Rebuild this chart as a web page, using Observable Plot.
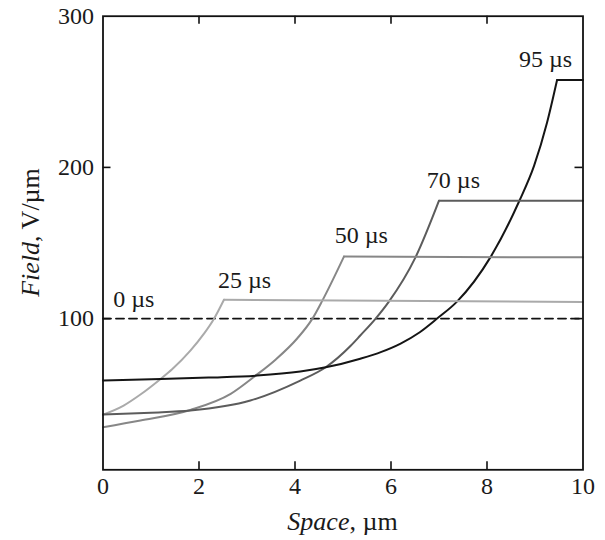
<!DOCTYPE html>
<html><head><meta charset="utf-8">
<script src="https://cdn.jsdelivr.net/npm/d3@7"></script>
<script src="https://cdn.jsdelivr.net/npm/@observablehq/plot@0.6"></script>
<style>body{margin:0;background:#fff} svg{display:block}</style>
</head><body><div id="chart"></div>
<script>
// ---- data ----
const seriesNames = ["0 µs", "25 µs", "50 µs", "70 µs", "95 µs"];
const seriesColors = ["#111111", "#aaaaaa", "#878787", "#5c5c5c", "#151515"];

const space0 = [0, 10];
const field0 = [100, 100];

const space25 = [0, 0.43, 0.78, 1.2, 1.44, 1.82, 2.1, 2.31, 2.52];
const field25 = [36.5, 42.5, 49.8, 60.1, 66.5, 78.8, 89.9, 99.8, 112.5];
const plateau25 = 111;

const space50 = [0, 0.78, 1.82, 2.66, 3.18, 3.6, 4.05, 4.36, 4.57, 5.02];
const field50 = [28.2, 32.6, 39.6, 50.2, 62.3, 73, 87, 99.8, 111.9, 141];
const plateau50 = 140.5;

const space70 = [0, 1.0, 1.82, 3.07, 4.11, 4.64, 5.16, 5.36, 5.68, 5.96, 6.51, 7.0];
const field70 = [36.5, 37.8, 39.2, 45.8, 59, 67.8, 82, 88.8, 100, 111.4, 140.5, 178];
const plateau70 = 178;

const space95 = [0, 1.2, 2.2, 3.21, 4.11, 4.64, 5.36, 5.8, 6.2, 6.6, 6.96, 7.38, 8.07, 8.67, 8.98, 9.25, 9.46];
const field95 = [59, 60, 61, 62.3, 65, 67.8, 73.5, 78, 83.5, 91, 100, 111.4, 140.5, 177.6, 201, 229.5, 257.8];
const plateau95 = 257.8;

const spaceEnd = 10;

const labelSpace = [0.64, 2.95, 5.38, 7.3, 9.22];
const labelField = [112.6, 125, 154.8, 191.2, 271.8];

const xTickValues = [0, 2, 4, 6, 8, 10];
const xInnerTicks = [2, 4, 6, 8];
const yTickValues = [100, 200, 300];
const yInnerTicks = [100, 200];

// ---- tables ----
const rising = [];
const plateaus = [];
const curves = [
  [seriesNames[1], space25, field25, plateau25],
  [seriesNames[2], space50, field50, plateau50],
  [seriesNames[3], space70, field70, plateau70],
  [seriesNames[4], space95, field95, plateau95]
];
for (const [name, xs, ys, end] of curves) {
  xs.forEach((x, i) => rising.push({name, x, y: ys[i]}));
  plateaus.push({name, x: xs[xs.length - 1], y: ys[ys.length - 1]});
  plateaus.push({name, x: spaceEnd, y: end});
}
const dashed = space0.map((x, i) => ({name: seriesNames[0], x, y: field0[i]}));
const labels = seriesNames.map((name, i) => ({name, x: labelSpace[i], y: labelField[i]}));

const W = 605, H = 540;
const mL = 102.5, mR = 22.5, mT = 15.7, mB = 70.7;
const frameW = W - mL - mR, frameH = H - mT - mB;
const tickLen = 8;
const strokeOf = d => seriesColors[seriesNames.indexOf(d.name)];

const chart = Plot.plot({
  width: W, height: H,
  marginLeft: mL, marginRight: mR, marginTop: mT, marginBottom: mB,
  style: {fontFamily: "'Liberation Serif', 'Times New Roman', serif", fontSize: "24px", background: "#fff", color: "#1a1a1a"},
  x: {domain: [0, 10]},
  y: {domain: [0, 300]},
  marks: [
    Plot.lineY(dashed, {x: "x", y: "y", stroke: "#111", strokeWidth: 1.9, strokeDasharray: "8,5"}),
    Plot.line(rising, {x: "x", y: "y", z: "name", stroke: strokeOf, strokeWidth: 2, curve: "monotone-x"}),
    Plot.line(plateaus, {x: "x", y: "y", z: "name", stroke: strokeOf, strokeWidth: 2}),
    Plot.text(labels, {x: "x", y: "y", text: "name", fill: "#1a1a1a", fontSize: 24, textAnchor: "middle"}),
    Plot.tickX(xInnerTicks, {x: d => d, insetTop: frameH - tickLen, stroke: "#111", strokeWidth: 1.6}),
    Plot.tickX(xInnerTicks, {x: d => d, insetBottom: frameH - tickLen, stroke: "#111", strokeWidth: 1.6}),
    Plot.tickY(yInnerTicks, {y: d => d, insetRight: frameW - tickLen, stroke: "#111", strokeWidth: 1.6}),
    Plot.tickY(yInnerTicks, {y: d => d, insetLeft: frameW - tickLen, stroke: "#111", strokeWidth: 1.6}),
    Plot.frame({stroke: "#111", strokeWidth: 1.8}),
    Plot.axisX(xTickValues, {tickSize: 0, tickPadding: 7, label: null, fontSize: 24}),
    Plot.axisY(yTickValues, {tickSize: 0, tickPadding: 9, label: null, fontSize: 24})
  ]
});

const svg = d3.select(chart);
const xt = svg.append("text")
  .attr("x", mL + frameW / 2).attr("y", 530)
  .attr("text-anchor", "middle")
  .attr("fill", "#1a1a1a")
  .style("font-size", "26px");
xt.append("tspan").attr("font-style", "italic").text("Space");
xt.append("tspan").text(", µm");

const yt = svg.append("text")
  .attr("transform", `translate(39, ${mT + frameH / 2 - 10}) rotate(-90)`)
  .attr("text-anchor", "middle")
  .attr("fill", "#1a1a1a")
  .style("font-size", "26px");
yt.append("tspan").attr("font-style", "italic").text("Field");
yt.append("tspan").text(", V/µm");

document.getElementById("chart").appendChild(chart);
</script>
</body></html>
